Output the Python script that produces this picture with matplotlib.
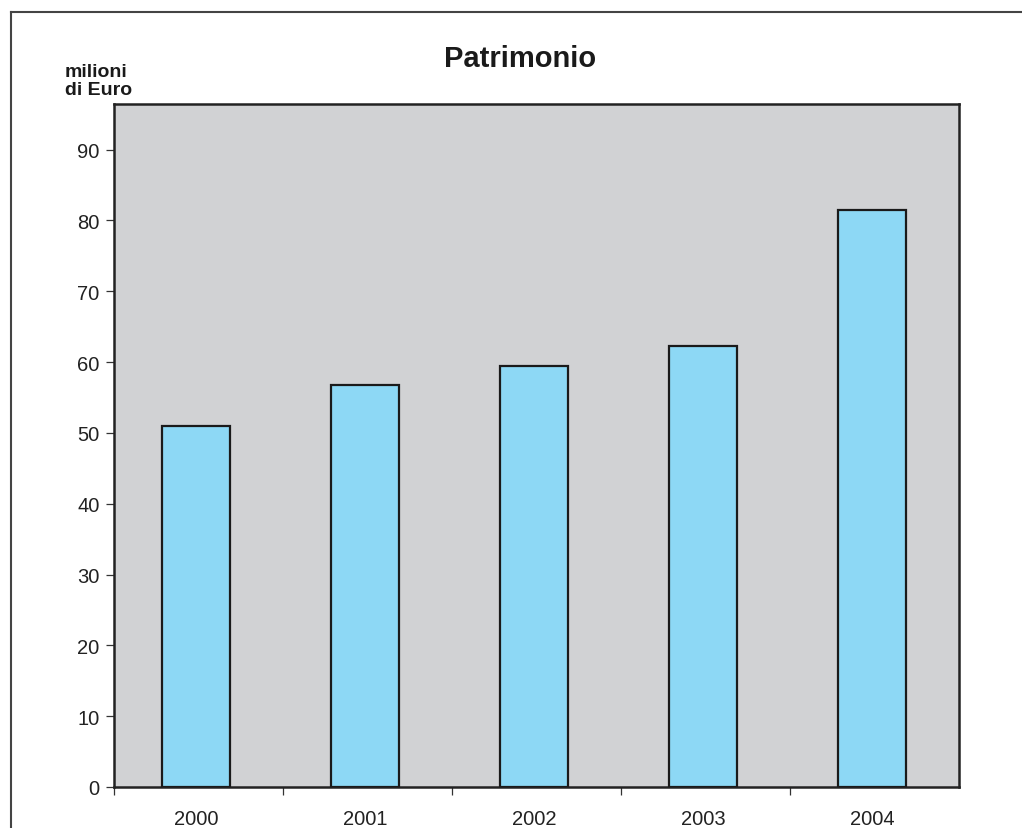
import matplotlib
matplotlib.use("Agg")
import matplotlib.pyplot as plt
from matplotlib.lines import Line2D
import numpy as np

plt.rcParams['font.family'] = ['Liberation Sans', 'DejaVu Sans']

years = ["2000", "2001", "2002", "2003", "2004"]
patrimonio = [51.0, 56.8, 59.5, 62.3, 81.5]
y_ticks = [0, 10, 20, 30, 40, 50, 60, 70, 80, 90]

W, H = 1022, 829
fig = plt.figure(figsize=(W / 100, H / 100), dpi=100)
fig.patch.set_facecolor("white")

ax = fig.add_axes([114 / W, 1 - 788 / H, (959 - 114) / W, (788 - 104.5) / H])
ax.set_facecolor("#d1d2d4")

x = np.arange(len(years)) - 0.015
ax.bar(x, patrimonio, width=0.405, color="#8dd8f5", edgecolor="#1a1a1a",
       linewidth=1.6, zorder=3)

ax.set_xlim(-0.5, len(years) - 0.5)
ax.set_ylim(0, 96.5)

ax.set_yticks(y_ticks)
ax.set_yticklabels([str(v) for v in y_ticks], fontsize=14.5, color="#222222")
ax.tick_params(axis="y", direction="out", length=5.5, width=0.9,
               color="#333333", pad=5)

ax.set_xticks(x)
ax.set_xticklabels(years, fontsize=14.5, color="#222222")
ax.tick_params(axis="x", which="major", length=0, pad=16)
ax.set_xticks(np.arange(len(years)) - 0.5, minor=True)
ax.tick_params(axis="x", which="minor", direction="out", length=6,
               width=0.9, color="#333333")

for s in ax.spines.values():
    s.set_linewidth(1.8)
    s.set_color("#222222")

fig.text(520 / W, 1 - 59 / H, "Patrimonio", ha="center", va="center",
         fontsize=21, fontweight="bold", color="#1a1a1a")
fig.text(65 / W, 1 - 64 / H, "milioni\ndi Euro", ha="left", va="top",
         fontsize=14, fontweight="bold", color="#1a1a1a", linespacing=1.08)

# page frame
fig.add_artist(Line2D([11 / W, 11 / W], [0, 1 - 13 / H],
                      transform=fig.transFigure, color="#444444", lw=1.5))
fig.add_artist(Line2D([11 / W, 1], [1 - 13 / H, 1 - 13 / H],
                      transform=fig.transFigure, color="#444444", lw=1.5))

fig.savefig("out.png", dpi=100, facecolor="white")
